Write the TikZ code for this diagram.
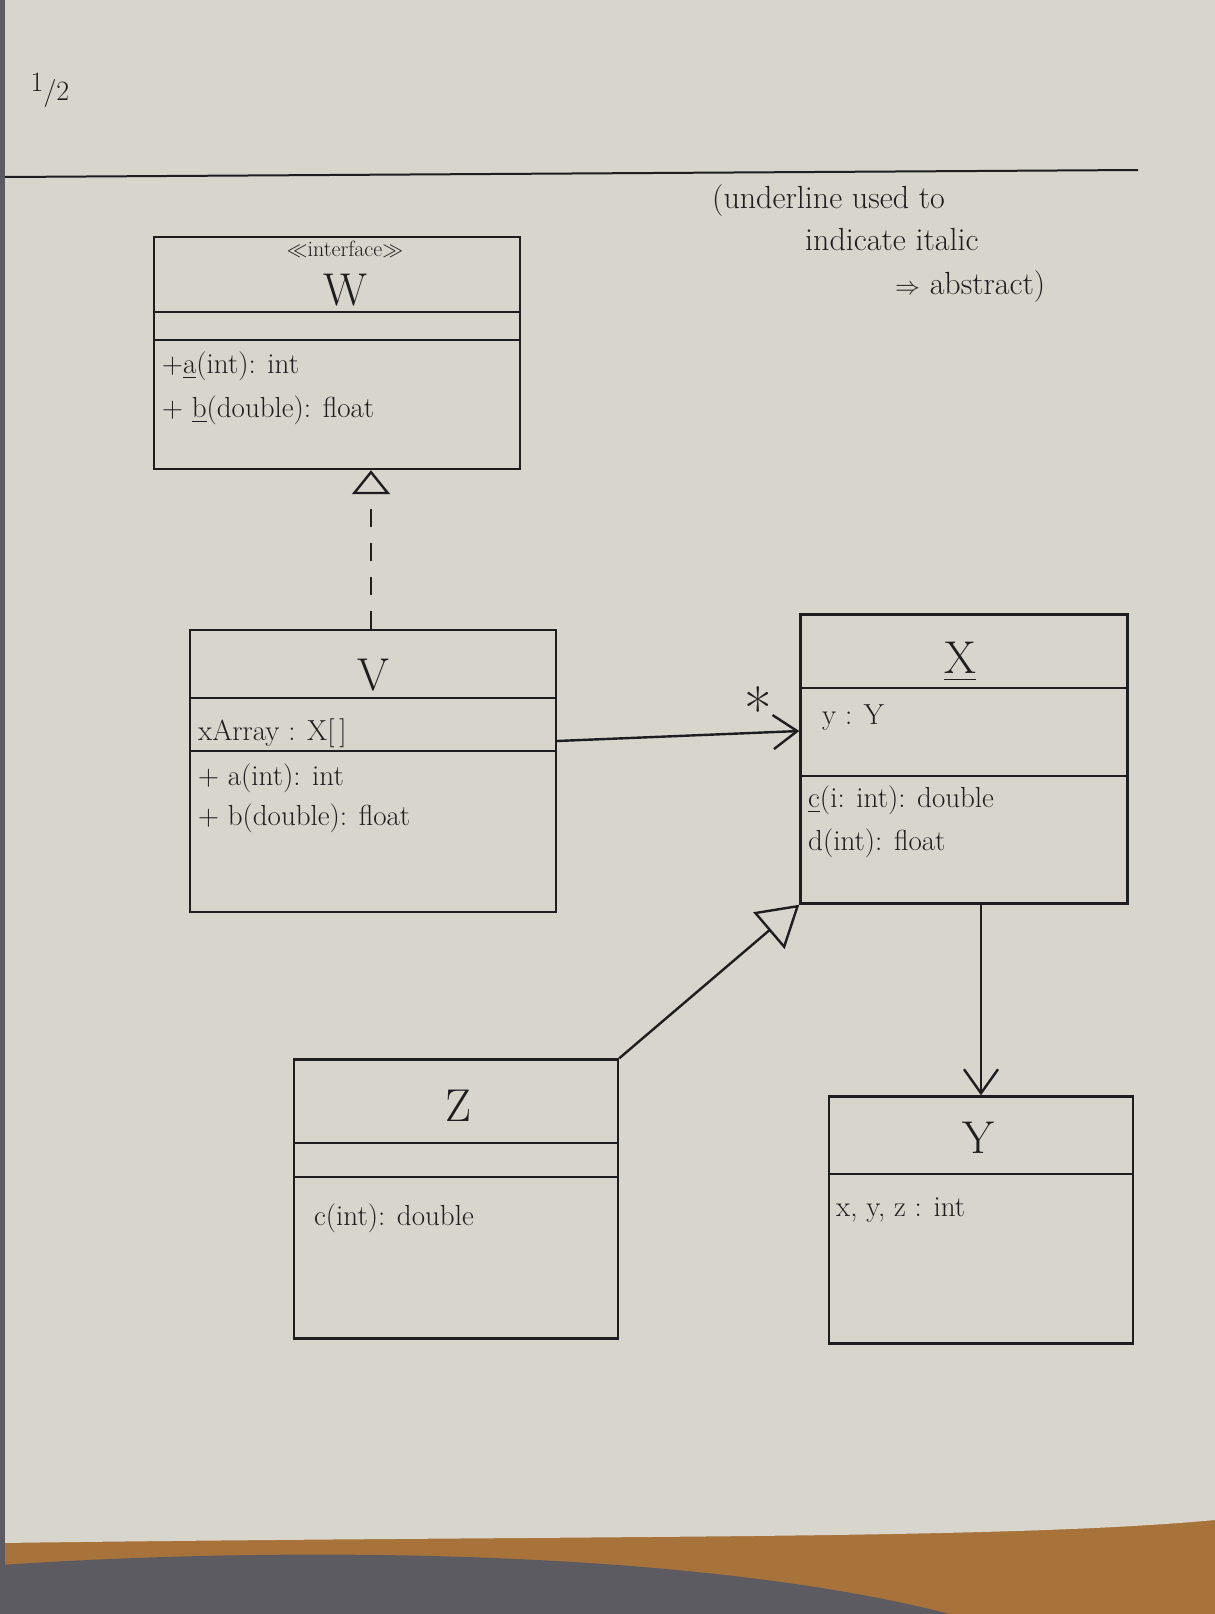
\documentclass[tikz,border=0pt]{standalone}
\usepackage{amsmath,amssymb}
\usepackage{xcolor}
\usepackage{tikz}
\usetikzlibrary{shapes,arrows.meta,calc}

\definecolor{paper}{HTML}{D8D5CD}
\definecolor{desk}{HTML}{A8733A}
\definecolor{cloth}{HTML}{5C5B61}
\definecolor{ink}{HTML}{1E1D1F}

\begin{document}
\begin{tikzpicture}[x=1pt,y=-1pt,>=Latex]
    \tikzstyle{classbox} = [draw=ink, shape=rectangle, line width=2.4pt, inner sep=0pt]
    \tikzstyle{title} = [text=ink, inner sep=0pt, font=\fontsize{46}{50}\selectfont]
    \tikzstyle{stereo} = [text=ink, inner sep=0pt, font=\fontsize{22}{26}\selectfont]
    \tikzstyle{member} = [text=ink, anchor=west, inner sep=0pt, font=\fontsize{29}{34}\selectfont]
    \tikzstyle{note} = [text=ink, anchor=west, inner sep=0pt, font=\fontsize{32}{36}\selectfont]
    \tikzstyle{sep} = [draw=ink, line width=2.4pt]
    \tikzstyle{assoc} = [draw=ink, line width=2.4pt, -{Straight Barb[length=24pt,width=34pt]}]
    \tikzstyle{realize} = [draw=ink, line width=2.4pt, dash pattern=on 18pt off 16pt, -{Triangle[open,length=24pt,width=38pt]}]
    \tikzstyle{inherit} = [draw=ink, line width=2.4pt, -{Triangle[open,length=40pt,width=48pt]}]
    %Paper and background
    \useasboundingbox (0,0) rectangle (1215,1614);
    \fill[desk] (0,1500) rectangle (1215,1614);
    \fill[cloth] (0,1565) .. controls (300,1545) and (700,1550) .. (950,1614) -- (0,1614) -- cycle;
    \fill[paper] (0,0) -- (1215,0) -- (1215,1520) .. controls (1000,1540) and (600,1535) .. (0,1543) -- cycle;
    \fill[cloth] (0,0) rectangle (5,1614);
    %Page header
    \node[text=ink, font=\fontsize{28}{30}\selectfont] (page) at (50,90) {\raisebox{9pt}{1}/2};
    \coordinate (ruleL) at (5,177);
    \coordinate (ruleR) at (1138,170);
    \draw[sep, line width=2pt] (ruleL) -- (ruleR);
    \node[note] (note1) at (712,201) {(underline used to};
    \node[note] (note2) at (805,240) {indicate italic};
    \node[note] (note3) at (895,287) {$\Rightarrow$ abstract)};
    %Creating Class Boxes
    \node[classbox, minimum width=366, minimum height=232] (W) at (337,353) {};
    \node[classbox, minimum width=366, minimum height=282] (V) at (373,771) {};
    \node[classbox, minimum width=327, minimum height=289] (X) at (964,759) {};
    \node[classbox, minimum width=324, minimum height=279] (Z) at (456,1199) {};
    \node[classbox, minimum width=304, minimum height=247] (Y) at (981,1220) {};
    %Compartments
    \draw[sep] (W.west |- 0,312) -- (W.east |- 0,312);
    \draw[sep] (W.west |- 0,340) -- (W.east |- 0,340);
    \draw[sep] (V.west |- 0,698) -- (V.east |- 0,698);
    \draw[sep] (V.west |- 0,751) -- (V.east |- 0,751);
    \draw[sep] (X.west |- 0,688) -- (X.east |- 0,688);
    \draw[sep] (X.west |- 0,776) -- (X.east |- 0,776);
    \draw[sep] (Z.west |- 0,1143) -- (Z.east |- 0,1143);
    \draw[sep] (Z.west |- 0,1177) -- (Z.east |- 0,1177);
    \draw[sep] (Y.west |- 0,1174) -- (Y.east |- 0,1174);
    %Class Texts
    \node[stereo] (Wst) at (345,249) {$\ll$interface$\gg$};
    \node[title] (Wname) at (345,290) {W};
    \node[member] (Wa) at (162,366) {+\underline{a}(int): int};
    \node[member] (Wb) at (162,410) {+ \underline{b}(double): float};
    \node[title] (Vname) at (373,675) {V};
    \node[member] (Vx) at (198,733) {xArray : X[\,]};
    \node[member] (Va) at (198,778) {+ a(int): int};
    \node[member] (Vb) at (198,818) {+ b(double): float};
    \node[title] (Xname) at (960,662) {\underline{X}};
    \node[member] (Xy) at (822,718) {y : Y};
    \node[member] (Xc) at (808,800) {\underline{c}(i: int): double};
    \node[member] (Xd) at (808,843) {d(int): float};
    \node[title] (Zname) at (458,1106) {Z};
    \node[member] (Zc) at (314,1218) {c(int): double};
    \node[title] (Yname) at (978,1138) {Y};
    \node[member] (Yx) at (836,1210) {x, y, z : int};
    %Connecting Classes
    \draw[realize] ([xshift=-2pt]V.north) -- ([xshift=-2pt]V.north |- W.south);
    \draw[assoc] ([yshift=30pt]V.east) -- ([yshift=28pt]X.west);
    \node[text=ink, inner sep=0pt, font=\fontsize{60}{60}\selectfont] (mult) at ([xshift=-41pt,yshift=50pt]X.west) {*};
    \draw[inherit] (Z.north east) -- (X.south west);
    \draw[assoc] (X.south -| Y.north) -- (Y.north);
\end{tikzpicture}
\end{document}
